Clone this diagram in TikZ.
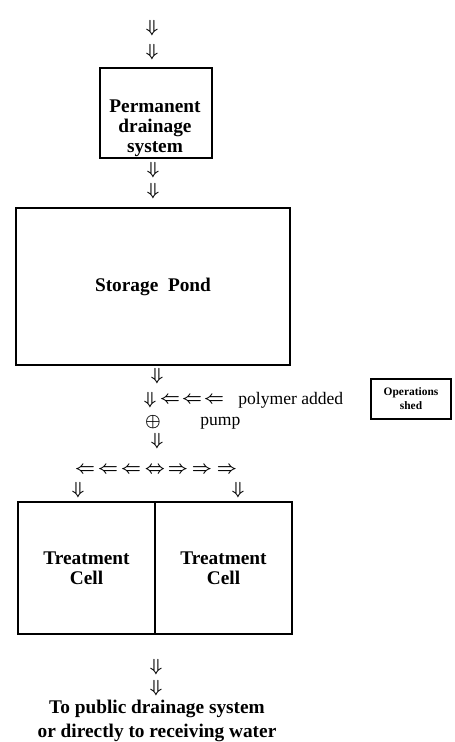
\documentclass[tikz,border=0pt]{standalone}
\usepackage{amsmath}
\usepackage{amssymb}
\usepackage{fontspec}
\setmainfont{Liberation Serif}
\usetikzlibrary{positioning}
\tikzset{
	box/.style={draw, line width=1.3pt, inner sep=0pt},
	boxtext/.style={font=\fontsize{11}{11.5}\selectfont\bfseries, align=center},
	note/.style={font=\fontsize{10}{12}\selectfont, inner sep=0pt},
	glyph/.style={inner sep=0pt, font=\fontsize{10}{12}\selectfont\boldmath},
}

\begin{document}
\begin{tikzpicture}[x=0.02cm, y=-0.02cm]
			% Frame (pixel units of the page)
			\useasboundingbox (0,0) rectangle (454,742);
			
			% Inflow
			\node[glyph] (in1) at (152,28) {$\Downarrow$};
			\node[glyph] (in2) at (152,52) {$\Downarrow$};
			
			% Permanent drainage system
			\node[box, minimum width=2.24cm, minimum height=1.8cm] (perm) at (156,113) {};
			\node[boxtext] (permtxt) at (155,128) {Permanent\\drainage\\system};
			\node[glyph] (d1) at (153,170) {$\Downarrow$};
			\node[glyph] (d2) at (153,191) {$\Downarrow$};
			
			% Storage pond
			\node[box, boxtext, minimum width=5.48cm, minimum height=3.14cm] (pond) at (153,286.5) {Storage\ \ Pond};
			
			% Polymer dosing and pump
			\node[glyph] (p1) at (157,376) {$\Downarrow$};
			\node[glyph] (p2) at (150,400) {$\Downarrow$};
			\foreach \x in {170,192,214}
				\node[glyph] at (\x,400) {$\Leftarrow$};
			\node[note, anchor=west] (poly) at (238,400) {polymer added};
			\node[glyph] (pmp) at (153,422) {$\oplus$};
			\node[note, anchor=west] (pumptxt) at (200,423) {pump};
			\node[glyph] (p3) at (157,441) {$\Downarrow$};
			
			% Operations shed
			\node[box, minimum width=1.6cm, minimum height=0.8cm, align=center,
				font=\fontsize{6.5}{8}\selectfont\bfseries] (shed) at (411,399) {Operations\\shed};
			
			% Distribution to the cells
			\foreach \x/\g in {85/\Leftarrow, 108/\Leftarrow, 131/\Leftarrow, 155/\Leftrightarrow,
				178/\Rightarrow, 202/\Rightarrow, 227/\Rightarrow}
				\node[glyph] at (\x,470) {$\g$};
			\node[glyph] (sL) at (78,490) {$\Downarrow$};
			\node[glyph] (sR) at (238,490) {$\Downarrow$};
			
			% Treatment cells
			\node[box, boxtext, minimum width=2.74cm, minimum height=2.64cm] (cellL) at (86.5,568) {Treatment\\Cell};
			\node[box, boxtext, minimum width=2.74cm, minimum height=2.64cm] (cellR) at (223.5,568) {Treatment\\Cell};
			
			% Outflow
			\node[glyph] (o1) at (156,667) {$\Downarrow$};
			\node[glyph] (o2) at (156,688) {$\Downarrow$};
			\node[boxtext, font=\fontsize{11}{13.5}\selectfont\bfseries] (outlet) at (157,721)
				{To public drainage system\\or directly to receiving water};
			
		\end{tikzpicture}
\end{document}
